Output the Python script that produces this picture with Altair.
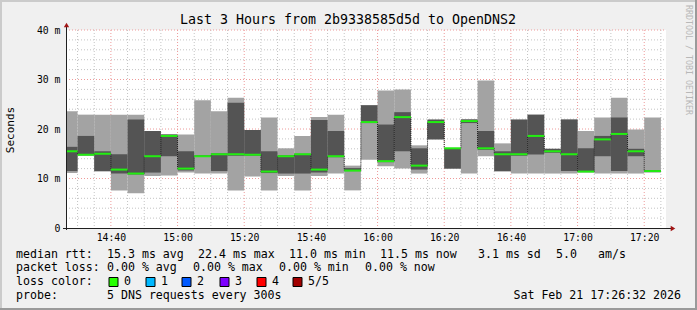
import altair as alt
import pandas as pd
import numpy as np

# ---------------- data ----------------
bin_start = ["14:25", "14:30", "14:35", "14:40", "14:45", "14:50", "14:55", "15:00", "15:05",
             "15:10", "15:15", "15:20", "15:25", "15:30", "15:35", "15:40", "15:45", "15:50",
             "15:55", "16:00", "16:05", "16:10", "16:15", "16:20", "16:25", "16:30", "16:35",
             "16:40", "16:45", "16:50", "16:55", "17:00", "17:05", "17:10", "17:15", "17:20"]
rtt_min = [11.1, 14.6, 11.4, 7.6, 7.0, 10.5, 10.6, 11.2, 11.0, 11.0, 7.6, 10.4,
           7.6, 10.5, 7.6, 10.5, 11.0, 7.6, 13.8, 12.5, 12.0, 11.0, 17.9, 12.0,
           11.0, 14.5, 11.4, 11.0, 11.0, 11.0, 11.0, 11.2, 11.0, 11.0, 11.0, 11.2]
rtt_p2 = [11.5, 14.7, 11.5, 11.0, 10.8, 11.2, 14.5, 11.6, 14.4, 11.5, 14.6, 14.6,
          11.1, 11.0, 11.0, 11.2, 14.3, 11.5, 21.2, 13.3, 15.5, 11.8, 17.9, 12.0,
          21.2, 15.8, 11.5, 14.6, 14.85, 15.2, 11.5, 11.3, 14.5, 11.5, 14.5, 11.3]
rtt_med = [15.5, 14.8, 15.0, 11.8, 11.0, 14.5, 18.6, 12.0, 14.5, 14.9, 14.9, 14.8,
           11.4, 14.5, 14.9, 11.8, 14.5, 11.6, 21.4, 13.5, 22.4, 12.6, 21.4, 16.1,
           21.6, 16.1, 14.9, 14.9, 18.6, 15.5, 14.9, 11.4, 17.9, 19.0, 15.5, 11.5]
rtt_p4 = [16.4, 18.6, 15.5, 14.9, 21.9, 19.6, 18.9, 15.5, 14.7, 15.1, 25.3, 19.8,
          15.5, 14.7, 15.0, 21.8, 19.6, 12.1, 24.8, 20.9, 23.4, 16.1, 21.9, 16.1,
          21.9, 19.6, 15.5, 21.9, 22.9, 16.0, 21.9, 16.1, 18.6, 22.3, 16.0, 11.7]
rtt_max = [23.6, 22.9, 22.9, 22.9, 22.9, 19.6, 18.9, 18.9, 25.8, 23.6, 26.3, 19.8,
           22.3, 16.1, 18.6, 22.4, 22.9, 12.6, 24.8, 27.8, 28.0, 16.7, 21.9, 16.2,
           22.0, 29.8, 17.1, 21.9, 22.9, 16.0, 21.9, 19.6, 22.3, 26.3, 19.9, 22.3]

y_ticks = [0, 10, 20, 30, 40]
x_ticks = ["14:40", "15:00", "15:20", "15:40", "16:00", "16:20", "16:40", "17:00", "17:20"]

title_text = "Last 3 Hours from 2b9338585d5d to OpenDNS2"
legend_line1 = ["median rtt:", "15.3 ms avg", "22.4 ms max", "11.0 ms min", "11.5 ms now",
                "3.1 ms sd", "5.0", "am/s"]
legend_line2 = ["packet loss:", "0.00 % avg", "0.00 % max", "0.00 % min", "0.00 % now"]
loss_labels = ["0", "1", "2", "3", "4", "5/5"]
loss_colors = ["#26ff00", "#00b8ff", "#0059ff", "#7e00ff", "#ff0000", "#a10000"]
probe_text = "5 DNS requests every 300s"
stamp_text = "Sat Feb 21 17:26:32 2026"

# ---------------- layout ----------------
W, H = 600, 198
PL, PT = 66, 30
FONT = "DejaVu Sans Mono"
LFS = 11.6


def to_min(s):
    h, m = s.split(":")
    return int(h) * 60 + int(m)


t0 = 14 * 60 + 26 + 32 / 60.0
t1 = t0 + 180

df = pd.DataFrame({
    "t": [to_min(s) for s in bin_start],
    "mn": rtt_min, "p2": rtt_p2, "med": rtt_med, "p4": rtt_p4, "mx": rtt_max,
})
df["t2"] = df["t"] + 5
conn = pd.DataFrame({"t": df["t"].iloc[1:].values,
                     "a": df["med"].iloc[:-1].values,
                     "b": df["med"].iloc[1:].values})

xs = alt.Scale(domain=[t0, t1], nice=False, zero=False)
ys = alt.Scale(domain=[0, 40], nice=False, zero=True)

label_expr = ("floor(datum.value/60) + ':' + (datum.value % 60 < 10 ? '0' : '') + (datum.value % 60)")
xaxis = alt.Axis(values=[to_min(s) for s in x_ticks], labelExpr=label_expr, grid=False, ticks=False,
                 domain=False, title=None, labelFont=FONT, labelFontSize=9.8, labelColor="#000",
                 labelPadding=4, labelAngle=0)
yaxis = alt.Axis(values=y_ticks, labelExpr="datum.value == 0 ? '0' : datum.value + ' m'", grid=False,
                 ticks=False, domain=False, title=None, labelFont=FONT, labelFontSize=9.8,
                 labelColor="#000", labelPadding=6)

# grid
minor_v = pd.DataFrame({"t": np.arange(870, 1046, 5)})
minor_v = minor_v[minor_v["t"] % 20 != 0]
major_v = pd.DataFrame({"t": [to_min(s) for s in x_ticks]})
minor_h = pd.DataFrame({"v": [v for v in range(2, 41, 2) if v % 10 != 0]})
major_h = pd.DataFrame({"v": [10, 20, 30, 40]})

grid_minor_v = alt.Chart(minor_v).mark_rule(color="#c4c4c4", strokeDash=[1, 2], strokeWidth=1).encode(
    x=alt.X("t:Q", scale=xs, axis=xaxis), y=alt.value(0), y2=alt.value(H))
grid_minor_h = alt.Chart(minor_h).mark_rule(color="#c4c4c4", strokeDash=[1, 2], strokeWidth=1).encode(
    y=alt.Y("v:Q", scale=ys, axis=yaxis), x=alt.value(0), x2=alt.value(W))
grid_major_v = alt.Chart(major_v).mark_rule(color="#ee9a9a", strokeDash=[1, 2], strokeWidth=1).encode(
    x=alt.X("t:Q", scale=xs), y=alt.value(0), y2=alt.value(H))
grid_major_h = alt.Chart(major_h).mark_rule(color="#ee9a9a", strokeDash=[1, 2], strokeWidth=1).encode(
    y=alt.Y("v:Q", scale=ys), x=alt.value(0), x2=alt.value(W))

base = alt.Chart(df)
light = base.mark_rect(color="#a3a3a3", clip=True).encode(
    x=alt.X("t:Q", scale=xs), x2="t2:Q", y=alt.Y("mn:Q", scale=ys), y2="mx:Q")
dark = base.mark_rect(color="#545454", clip=True).encode(
    x=alt.X("t:Q", scale=xs), x2="t2:Q", y=alt.Y("p2:Q", scale=ys), y2="p4:Q")
connectors = alt.Chart(conn).mark_rule(color="#1a1a1a", strokeDash=[1, 1], strokeWidth=1).encode(
    x=alt.X("t:Q", scale=xs), y=alt.Y("a:Q", scale=ys), y2="b:Q")
median = base.mark_rule(color="#22ee11", strokeWidth=2, clip=True).encode(
    x=alt.X("t:Q", scale=xs), x2="t2:Q", y=alt.Y("med:Q", scale=ys))

one = pd.DataFrame({"k": [0]})
axis_y_line = alt.Chart(one).mark_rule(color="#202020", strokeWidth=1).encode(
    x=alt.value(0.5), y=alt.value(-3), y2=alt.value(H + 2))
axis_x_line = alt.Chart(one).mark_rule(color="#202020", strokeWidth=1).encode(
    y=alt.value(H + 0.5), x=alt.value(-3), x2=alt.value(W + 5))
arrow_up = alt.Chart(one).mark_point(shape="triangle-up", filled=True, color="#a11414", size=28,
                                     opacity=1).encode(x=alt.value(0.5), y=alt.value(-5))
arrow_right = alt.Chart(one).mark_point(shape="triangle-right", filled=True, color="#a11414", size=28,
                                        opacity=1).encode(x=alt.value(W + 7), y=alt.value(H + 0.5))


def txt(s, cx, cy, size=LFS, align="left", color="#000", angle=0, font=FONT, baseline="middle"):
    return alt.Chart(pd.DataFrame({"s": [s]})).mark_text(
        font=font, fontSize=size, align=align, baseline=baseline, color=color, angle=angle
    ).encode(text="s:N", x=alt.value(cx - PL), y=alt.value(cy - PT))


texts = [txt(title_text, 348, 20, size=13.3, align="center"),
         txt("Seconds", 11, 130, size=11, align="center", angle=270),
         txt("RRDTOOL / TOBI OETIKER", 688, 5, size=8.3, align="left", color="#b8b8b8", angle=90)]

l1_x = [16, 107, 198, 289, 380, 478, 556, 598]
for s, x in zip(legend_line1, l1_x):
    texts.append(txt(s, x, 255))
l2_x = [16, 107, 193, 279, 365]
for s, x in zip(legend_line2, l2_x):
    texts.append(txt(s, x, 268))
texts.append(txt("loss color:", 16, 282))
box_x = [109, 146, 182, 220, 257, 293]
boxes = []
for lab, col, bx in zip(loss_labels, loss_colors, box_x):
    boxes.append(alt.Chart(one).mark_rect(color=col, stroke="#000", strokeWidth=1).encode(
        x=alt.value(bx - PL), x2=alt.value(bx + 9 - PL), y=alt.value(277.5 - PT), y2=alt.value(286.5 - PT)))
    texts.append(txt(lab, bx + 15, 282))
texts.append(txt("probe:", 16, 296))
texts.append(txt(probe_text, 107, 296))
texts.append(txt(stamp_text, 681, 296, align="right"))

# frame of the image
frame = [
    alt.Chart(one).mark_rule(color="#cbcbcb", strokeWidth=2).encode(
        x=alt.value(-PL), x2=alt.value(697 - PL), y=alt.value(-PT + 1)),
    alt.Chart(one).mark_rule(color="#cbcbcb", strokeWidth=2).encode(
        x=alt.value(-PL + 1), y=alt.value(-PT), y2=alt.value(310 - PT)),
    alt.Chart(one).mark_rule(color="#9a9a9a", strokeWidth=2).encode(
        x=alt.value(-PL), x2=alt.value(697 - PL), y=alt.value(310 - PT - 1)),
    alt.Chart(one).mark_rule(color="#9a9a9a", strokeWidth=2).encode(
        x=alt.value(697 - PL - 1), y=alt.value(-PT), y2=alt.value(310 - PT)),
]

chart = alt.layer(
    grid_minor_v, grid_minor_h, grid_major_v, grid_major_h,
    light, dark, connectors, median,
    axis_y_line, axis_x_line, arrow_up, arrow_right,
    *boxes, *texts, *frame
).properties(
    width=W, height=H,
    autosize=alt.AutoSizeParams(type="none"),
    padding={"left": PL, "top": PT, "right": 697 - PL - W, "bottom": 310 - PT - H},
    background="#f0f0f0",
).configure_view(fill="#ffffff", stroke=None)

chart.save("out.html", embed_options={"renderer": "svg", "actions": False})
